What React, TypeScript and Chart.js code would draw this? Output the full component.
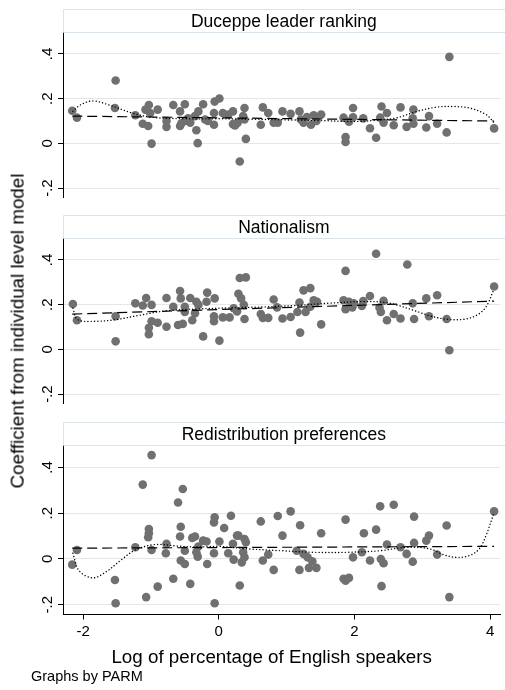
import React, { useEffect, useRef } from "react";
import { Chart, registerables } from "chart.js";

Chart.register(...registerables);

// ---------- data ----------
const panelTitles = ["Duceppe leader ranking", "Nationalism", "Redistribution preferences"];

const duceppePoints: [number, number][] = [
  [-2.16, 0.146], [-2.09, 0.115], [-1.52, 0.281], [-1.53, 0.158], [-1.23, 0.126], [-1.12, 0.088],
  [-1.04, 0.078], [-1.08, 0.151], [-1.03, 0.172], [-1.01, 0.136], [-0.9, 0.151], [-0.99, -0.001],
  [-0.77, 0.1], [-0.77, 0.074], [-0.67, 0.172], [-0.57, 0.143], [-0.57, 0.078], [-0.5, 0.175],
  [-0.5, 0.1], [-0.42, 0.093], [-0.35, 0.122], [-0.3, 0.143], [-0.33, 0.059], [-0.31, 0.001],
  [-0.23, 0.175], [-0.2, 0.107], [-0.16, 0.1], [-0.07, 0.083], [-0.07, 0.136], [-0.06, 0.187],
  [0.01, 0.201], [0.06, 0.136], [0.14, 0.129], [0.21, 0.143], [0.21, 0.086], [0.28, 0.093],
  [0.31, -0.081], [0.36, 0.122], [0.38, 0.158], [0.38, 0.107], [0.4, 0.02], [0.62, 0.083],
  [0.65, 0.161], [0.73, 0.136], [0.81, 0.093], [0.87, 0.093], [0.94, 0.143], [1.06, 0.132],
  [1.19, 0.143], [1.21, 0.107], [1.25, 0.093], [1.36, 0.083], [1.4, 0.126], [1.44, 0.1],
  [1.51, 0.129], [1.84, 0.115], [1.87, 0.028], [1.87, 0.006], [1.92, 0.097], [1.98, 0.158],
  [1.98, 0.117], [2.13, 0.112], [2.23, 0.068], [2.32, 0.025], [2.38, 0.115], [2.4, 0.165],
  [2.43, 0.093], [2.48, 0.136], [2.58, 0.081], [2.68, 0.161], [2.77, 0.074], [2.87, 0.151],
  [2.87, 0.088], [2.86, 0.112], [3.1, 0.122], [3.06, 0.071], [3.22, 0.088], [3.36, 0.049],
  [3.4, 0.387], [4.06, 0.067], [-0.55, 0.09], [-0.45, 0.112], [0.24, 0.08], [1.3, 0.118],
];

const nationalismPoints: [number, number][] = [
  [-2.15, 0.203], [-2.09, 0.13], [-1.52, 0.148], [-1.52, 0.036], [-1.23, 0.206], [-1.12, 0.196],
  [-1.07, 0.23], [-0.99, 0.199], [-0.99, 0.126], [-1.03, 0.097], [-1.03, 0.068], [-0.9, 0.119],
  [-0.77, 0.23], [-0.77, 0.101], [-0.67, 0.191], [-0.6, 0.109], [-0.57, 0.261], [-0.56, 0.228],
  [-0.53, 0.114], [-0.5, 0.191], [-0.5, 0.167], [-0.42, 0.23], [-0.39, 0.13], [-0.35, 0.162],
  [-0.33, 0.213], [-0.3, 0.199], [-0.23, 0.058], [-0.18, 0.213], [-0.17, 0.254], [-0.07, 0.148],
  [-0.07, 0.126], [-0.06, 0.228], [0.01, 0.039], [0.06, 0.143], [0.16, 0.143], [0.22, 0.184],
  [0.27, 0.17], [0.29, 0.249], [0.31, 0.319], [0.33, 0.228], [0.37, 0.199], [0.38, 0.136],
  [0.4, 0.322], [0.62, 0.158], [0.65, 0.141], [0.73, 0.141], [0.81, 0.223], [0.86, 0.188],
  [0.94, 0.138], [1.06, 0.145], [1.19, 0.21], [1.16, 0.167], [1.2, 0.075], [1.25, 0.264],
  [1.28, 0.167], [1.35, 0.274], [1.35, 0.191], [1.4, 0.22], [1.45, 0.213], [1.51, 0.112],
  [1.84, 0.22], [1.87, 0.351], [1.87, 0.18], [1.92, 0.213], [1.97, 0.188], [1.99, 0.206],
  [2.11, 0.194], [2.13, 0.216], [2.23, 0.239], [2.32, 0.428], [2.37, 0.187], [2.39, 0.167],
  [2.43, 0.217], [2.48, 0.13], [2.58, 0.158], [2.68, 0.138], [2.78, 0.38], [2.86, 0.206],
  [2.88, 0.136], [3.06, 0.228], [3.1, 0.148], [3.22, 0.242], [3.36, 0.136], [3.4, -0.004],
  [4.06, 0.281],
];

const redistributionPoints: [number, number][] = [
  [-2.16, -0.025], [-2.09, 0.039], [-1.53, -0.092], [-1.52, -0.194], [-1.23, 0.051], [-1.12, 0.325],
  [-1.07, -0.167], [-1.04, 0.095], [-1.03, 0.131], [-1.03, 0.112], [-0.99, 0.454], [-0.99, 0.039],
  [-0.9, -0.121], [-0.78, 0.025], [-0.77, 0.066], [-0.67, -0.087], [-0.6, 0.247], [-0.57, 0.098],
  [-0.56, 0.141], [-0.56, -0.007], [-0.53, 0.306], [-0.5, -0.022], [-0.5, 0.036], [-0.42, -0.109],
  [-0.39, 0.092], [-0.35, 0.098], [-0.33, 0.029], [-0.31, 0.01], [-0.3, 0.054], [-0.23, 0.08],
  [-0.17, -0.022], [-0.18, 0.076], [-0.07, 0.16], [-0.07, 0.025], [-0.06, 0.182], [-0.06, -0.194],
  [0.01, 0.076], [0.08, 0.135], [0.14, 0.025], [0.18, 0.189], [0.21, 0.066], [0.22, -0.003],
  [0.27, 0.102], [0.29, 0.102], [0.31, -0.116], [0.34, -0.015], [0.36, 0.029], [0.38, 0.087],
  [0.4, 0.073], [0.38, 0.007], [0.62, 0.164], [0.65, -0.007], [0.73, 0.019], [0.81, -0.048],
  [0.87, 0.188], [0.94, 0.102], [1.06, 0.208], [1.15, 0.036], [1.19, -0.048], [1.2, 0.147],
  [1.25, 0.022], [1.31, 0.007], [1.33, -0.039], [1.38, -0.01], [1.44, -0.039], [1.51, 0.112],
  [1.84, -0.087], [1.87, -0.095], [1.87, 0.172], [1.92, -0.083], [1.98, 0.007], [2.11, 0.029],
  [2.14, 0.112], [2.23, -0.007], [2.32, 0.128], [2.38, 0.23], [2.39, 0.0], [2.4, -0.119],
  [2.43, -0.019], [2.48, 0.063], [2.58, 0.237], [2.68, 0.051], [2.77, 0.022], [2.86, -0.012],
  [2.88, 0.07], [2.88, 0.185], [3.06, 0.08], [3.1, 0.102], [3.22, 0.019], [3.36, 0.146],
  [3.4, -0.167], [4.06, 0.208],
];

// linear fits (dashed)
const duceppeFit: [number, number][] = [[-2.16, 0.122], [4.06, 0.1]];
const nationalismFit: [number, number][] = [[-2.16, 0.158], [4.06, 0.216]];
const redistributionFit: [number, number][] = [[-2.16, 0.047], [4.06, 0.055]];

// smoothers (dotted)
const duceppeSmooth: [number, number][] = [
  [-2.15, 0.143], [-2.05, 0.17], [-1.86, 0.19], [-1.62, 0.172], [-1.28, 0.136], [-0.99, 0.117],
  [-0.5, 0.11], [0, 0.11], [0.5, 0.108], [1.0, 0.105], [1.5, 0.102], [2.0, 0.098], [2.3, 0.103],
  [2.62, 0.114], [2.92, 0.143], [3.21, 0.162], [3.45, 0.165], [3.7, 0.158], [3.94, 0.129], [4.06, 0.093],
];
const nationalismSmooth: [number, number][] = [
  [-2.15, 0.184], [-2.08, 0.133], [-1.81, 0.126], [-1.52, 0.133], [-1.18, 0.152], [-0.79, 0.172],
  [-0.3, 0.181], [0.19, 0.186], [0.67, 0.19], [1.16, 0.197], [1.65, 0.207], [2.14, 0.214],
  [2.45, 0.21], [2.62, 0.199], [2.92, 0.17], [3.11, 0.15], [3.36, 0.135], [3.6, 0.134],
  [3.8, 0.152], [3.94, 0.19], [4.06, 0.271],
];
const redistributionSmooth: [number, number][] = [
  [-2.15, 0.025], [-2.06, -0.051], [-1.86, -0.083], [-1.67, -0.058], [-1.42, 0.0], [-1.23, 0.039],
  [-0.94, 0.063], [-0.6, 0.056], [-0.3, 0.052], [0, 0.055], [0.43, 0.044], [0.92, 0.036],
  [1.4, 0.029], [1.89, 0.029], [2.38, 0.036], [2.77, 0.051], [3.11, 0.044], [3.31, 0.019],
  [3.5, 0.007], [3.7, 0.015], [3.84, 0.044], [3.94, 0.102], [4.06, 0.204],
];

const yTickValues = [-0.2, 0, 0.2, 0.4];
const yTickLabels = ["-.2", "0", ".2", ".4"];
const xTickValues = [-2, 0, 2, 4];
const xTickLabels = ["-2", "0", "2", "4"];

const xTitle = "Log of percentage of English speakers";
const yTitle = "Coefficient from individual level model";
const noteText = "Graphs by PARM";

const panelPoints = [duceppePoints, nationalismPoints, redistributionPoints];
const panelFits = [duceppeFit, nationalismFit, redistributionFit];
const panelSmooths = [duceppeSmooth, nationalismSmooth, redistributionSmooth];

// ---------- layout / style ----------
const FONT = "'Liberation Sans', Arial, Helvetica, sans-serif";
const X_MIN = -2.296;
const X_MAX = 4.157;
const Y_MIN = -0.243;
const Y_MAX = 0.496;
const CANVAS_W = 505;
const HEADER_H = 23.5;
const PLOT_H = 169;
const PANEL_TOPS = [9, 215, 422];
const BOTTOM_CANVAS_H = 230;
const AXIS_LEFT = 63;

const toXY = (arr: [number, number][]) => arr.map(([x, y]) => ({ x, y }));

const headerPlugin = {
  id: "panelHeader",
  afterDraw(chart: any, _args: any, opts: any) {
    const { ctx, chartArea } = chart;
    const left = Math.round(chartArea.left) + 0.5;
    const right = chart.width;
    const top = 0.5;
    const bottom = chartArea.top;
    ctx.save();
    ctx.strokeStyle = "#dbe4e8";
    ctx.lineWidth = 1;
    ctx.beginPath();
    ctx.moveTo(right, top);
    ctx.lineTo(left, top);
    ctx.lineTo(left, bottom);
    ctx.moveTo(left, bottom);
    ctx.lineTo(right, bottom);
    ctx.stroke();
    ctx.fillStyle = "#000";
    ctx.font = `17.5px ${FONT}`;
    ctx.textAlign = "center";
    ctx.textBaseline = "alphabetic";
    ctx.fillText(opts.title, (chartArea.left + chartArea.right) / 2 + 2, 17.5);
    ctx.restore();
  },
};

function Panel({ index }: { index: number }) {
  const ref = useRef<HTMLCanvasElement | null>(null);
  const isBottom = index === 2;
  const height = isBottom ? BOTTOM_CANVAS_H : HEADER_H + PLOT_H + 0.5;

  useEffect(() => {
    if (!ref.current) return;
    const chart = new Chart(ref.current, {
      type: "scatter",
      data: {
        datasets: [
          {
            label: "fit",
            data: toXY(panelFits[index]),
            showLine: true,
            borderColor: "#000",
            borderWidth: 1.2,
            borderDash: [10, 5],
            pointRadius: 0,
            fill: false,
          },
          {
            label: "smooth",
            data: toXY(panelSmooths[index]),
            showLine: true,
            borderColor: "#000",
            borderWidth: 1.4,
            borderDash: [0.1, 3.2],
            borderCapStyle: "round",
            tension: 0.35,
            pointRadius: 0,
            fill: false,
          },
          {
            label: "points",
            data: toXY(panelPoints[index]),
            showLine: false,
            pointRadius: 4.3,
            pointBackgroundColor: "#707070",
            pointBorderWidth: 0,
            backgroundColor: "#707070",
            borderColor: "#707070",
          },
        ],
      } as any,
      options: {
        animation: false,
        responsive: false,
        maintainAspectRatio: false,
        events: [],
        layout: { padding: { top: HEADER_H, left: 0, right: 0, bottom: isBottom ? 0 : 0.5 } },
        plugins: {
          legend: { display: false },
          tooltip: { enabled: false },
          title: { display: false },
          panelHeader: { title: panelTitles[index] },
        } as any,
        scales: {
          x: {
            type: "linear",
            min: X_MIN,
            max: X_MAX,
            display: isBottom,
            afterBuildTicks: (s: any) => {
              s.ticks = xTickValues.map((v) => ({ value: v }));
            },
            afterFit: (s: any) => {
              s.height = isBottom ? BOTTOM_CANVAS_H - HEADER_H - PLOT_H : 0;
              s.paddingLeft = 0;
              s.paddingRight = 0;
            },
            grid: {
              drawOnChartArea: false,
              drawTicks: true,
              tickLength: 5,
              color: "#000",
              tickColor: "#000",
            },
            border: { display: true, color: "#000", width: 1 },
            ticks: {
              autoSkip: false,
              maxRotation: 0,
              minRotation: 0,
              padding: 3,
              color: "#000",
              font: { family: FONT, size: 15 },
              callback: (v: any) => {
                const i = xTickValues.indexOf(Number(v));
                return i >= 0 ? xTickLabels[i] : "";
              },
            },
          },
          y: {
            type: "linear",
            min: Y_MIN,
            max: Y_MAX,
            afterBuildTicks: (s: any) => {
              s.ticks = yTickValues.map((v) => ({ value: v }));
            },
            afterFit: (s: any) => {
              s.width = AXIS_LEFT;
              s.paddingTop = 0;
              s.paddingBottom = 0;
            },
            grid: {
              color: "#e6e6e6",
              tickColor: "#000",
              tickLength: 5,
              lineWidth: 1,
              drawTicks: true,
            },
            border: { display: true, color: "#000", width: 1 },
            ticks: {
              autoSkip: false,
              minRotation: 90,
              maxRotation: 90,
              crossAlign: "center",
              padding: 1,
              color: "#000",
              font: { family: FONT, size: 15 },
              callback: (v: any) => {
                const i = yTickValues.indexOf(Number(v));
                return i >= 0 ? yTickLabels[i] : "";
              },
            },
          },
        },
      } as any,
      plugins: [headerPlugin as any],
    });
    return () => chart.destroy();
  }, [index]);

  return (
    <canvas
      ref={ref}
      width={CANVAS_W}
      height={height}
      style={{
        position: "absolute",
        left: 0,
        top: PANEL_TOPS[index],
        width: CANVAS_W,
        height,
      }}
    />
  );
}

export default function App() {
  return (
    <div
      style={{
        position: "absolute",
        left: 0,
        top: 0,
        width: 505,
        height: 690,
        background: "#fff",
        overflow: "hidden",
        fontFamily: FONT,
        color: "#000",
      }}
    >
      <Panel index={0} />
      <Panel index={1} />
      <Panel index={2} />
      <div
        style={{
          position: "absolute",
          left: 17.5,
          top: 331,
          transform: "translate(-50%, -50%) rotate(-90deg)",
          whiteSpace: "nowrap",
          fontSize: 18.8,
          lineHeight: 1,
        }}
      >
        {yTitle}
      </div>
      <div
        style={{
          position: "absolute",
          left: 271.7,
          top: 657,
          transform: "translate(-50%, -50%)",
          whiteSpace: "nowrap",
          fontSize: 18.8,
          lineHeight: 1,
        }}
      >
        {xTitle}
      </div>
      <div
        style={{
          position: "absolute",
          left: 31,
          top: 669.4,
          whiteSpace: "nowrap",
          fontSize: 14.5,
          lineHeight: 1,
        }}
      >
        {noteText}
      </div>
    </div>
  );
}
